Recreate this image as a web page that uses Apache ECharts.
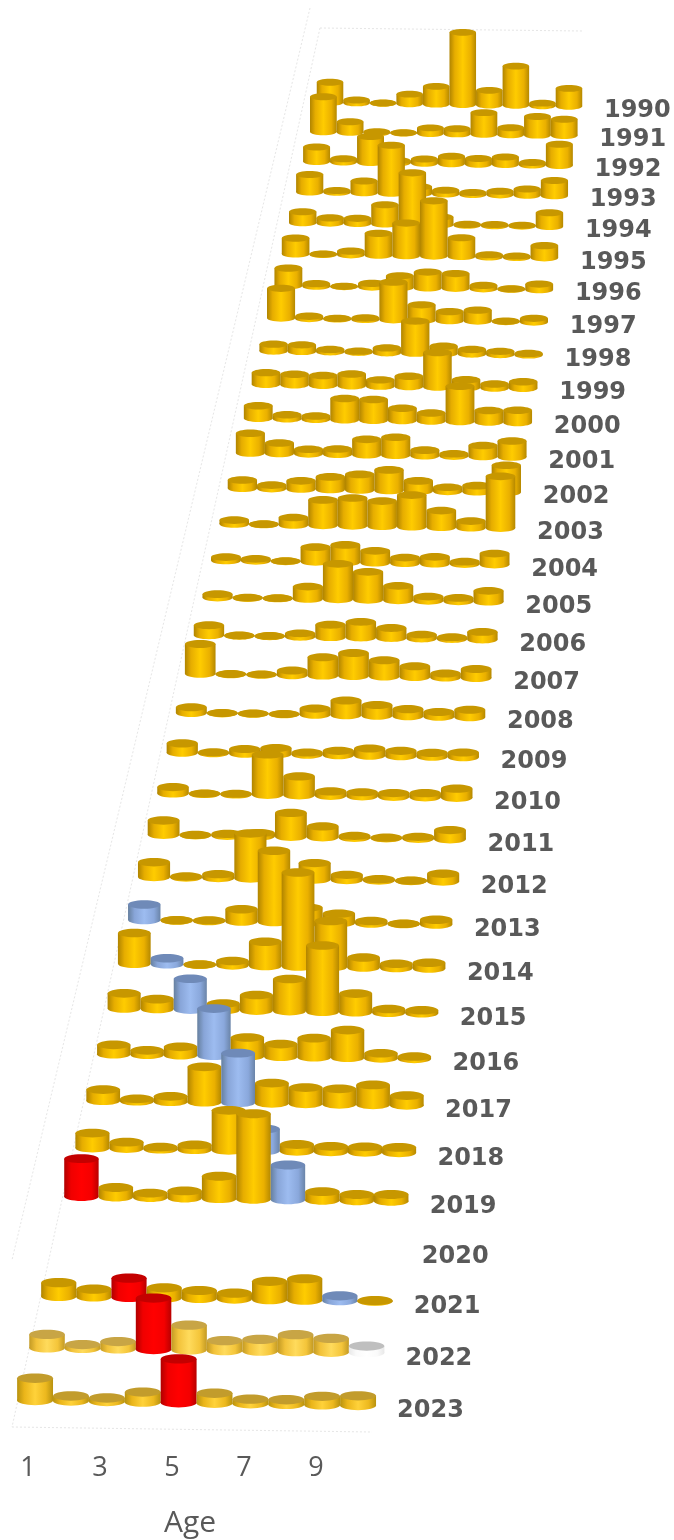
<!DOCTYPE html>
<html>
<head>
<meta charset="utf-8">
<title>Age by year</title>
<style>
    html,body{margin:0;padding:0;background:#fff;}
    #chart{width:674px;height:1540px;filter:blur(0.6px);}
</style>
<script src="https://cdn.jsdelivr.net/npm/echarts@6/dist/echarts.min.js"></script>
</head>
<body>
<div id="chart"></div>
<script>
    var ages = [1,2,3,4,5,6,7,8,9,10];
    var years = [1990,1991,1992,1993,1994,1995,1996,1997,1998,1999,2000,2001,2002,2003,2004,2005,2006,2007,2008,2009,2010,2011,2012,2013,2014,2015,2016,2017,2018,2019,2020,2021,2022,2023];
    // one row per year, age 1..10
    var rows = [
        [7.6,1.1,0.1,3.6,6.7,27.2,5.5,14.8,1.0,6.7],
        [13.1,3.9,0.3,0.1,2.1,1.9,8.1,2.6,7.0,6.1],
        [5.4,1.2,9.6,0.8,1.6,2.8,2.1,2.8,0.9,7.8],
        [6.4,0.7,4.3,17.6,2.5,1.4,0.7,1.3,2.3,5.6],
        [4.0,1.9,1.9,7.0,18.8,2.8,0.3,0.4,0.3,5.0],
        [5.7,0.1,1.3,7.9,11.8,20.0,6.8,0.8,0.5,4.4],
        [6.3,0.9,0.1,1.3,4.2,5.7,5.3,1.2,0.1,2.0],
        [10.6,0.8,0.2,0.5,13.4,5.5,3.2,3.9,0.1,1.3],
        [2.4,2.3,0.8,0.4,1.7,11.3,2.6,1.6,1.1,0.5],
        [4.1,3.7,3.4,4.1,2.2,3.6,12.1,2.7,1.4,2.3],
        [4.4,1.4,1.1,7.4,7.2,4.3,2.8,12.2,4.0,4.2],
        [6.8,3.6,1.6,1.8,5.3,6.2,1.9,0.8,3.8,5.5],
        [2.8,1.2,2.8,4.3,5.3,7.0,3.4,1.4,2.1,9.2],
        [1.3,0.1,2.5,8.6,9.4,8.5,10.7,5.6,2.2,17.5],
        [1.1,0.7,0.1,4.9,5.8,4.0,1.9,2.3,0.8,3.7],
        [1.1,0.1,0.1,4.1,11.8,9.3,4.8,1.4,1.1,3.6],
        [3.3,0.1,0.1,1.1,4.1,5.2,3.3,1.3,0.6,2.5],
        [9.7,0.1,0.1,1.5,6.0,7.5,5.3,3.5,1.3,2.9],
        [1.8,0.1,0.1,0.1,2.0,4.8,3.5,2.3,1.5,2.4],
        [3.0,0.3,1.5,2.0,0.7,1.4,2.3,1.7,1.2,1.5],
        [2.0,0.1,0.2,12.8,6.0,1.4,1.3,1.2,1.3,2.9],
        [4.5,0.1,0.6,1.0,7.5,3.4,0.6,0.2,0.6,2.9],
        [4.6,0.3,1.2,14.0,1.5,5.1,1.6,0.4,0.1,2.4],
        [4.8,0.1,0.2,3.8,22.0,4.6,2.9,0.8,0.1,1.5],
        [9.4,1.9,0.1,1.3,7.4,28.7,14.0,3.0,1.3,1.7],
        [4.6,3.0,9.3,2.0,4.7,9.7,20.0,5.6,1.1,0.9],
        [2.8,1.3,2.5,14.1,5.6,3.8,5.7,8.3,1.5,0.7],
        [3.3,0.7,1.6,10.5,14.7,6.0,4.8,4.6,5.9,2.9],
        [4.4,1.9,0.6,1.4,11.7,6.4,2.0,1.6,1.6,1.6],
        [11.0,2.8,1.3,2.1,6.5,24.8,10.1,2.5,1.8,2.0],
        [null,null,null,null,null,null,null,null,null,null],
        [3.9,2.2,5.5,2.9,2.3,1.7,5.2,6.1,1.4,0.2],
        [3.8,1.1,2.1,14.5,7.0,2.8,3.3,4.8,3.9,1.9],
        [6.2,1.4,1.0,2.8,12.2,2.8,1.3,1.3,2.4,2.7]
    ];
    // cohorts that are picked out in the chart (birth year = year - age)
    var redCohort = 2018;
    var blueCohort = 2012;
    var paleYear = 2022;
    var softYear = 2023;

    var gridLeft = 28, gridTop = 108, gridW = 324, gridH = 1300;

    // perspective of the 3D floor, fitted on the picture
    function project(px, py){
        var u = (px - gridLeft) / gridW;
        var t = (py - gridTop) / gridH * (years.length - 1);
        var s = 26.55 * 126.8 / (126.8 - t);
        var y = -3587 + 468500 / (126.8 - t);
        var x = 35 + (1408 - y) * 0.2269 + 9 * s * u;
        return {x: x, y: y + (u - 0.5) * 9 * s * 0.0155, s: s};
    }

    function shade(edgeL, midL, mid, midR, edgeR){
        return new echarts.graphic.LinearGradient(0,0,1,0,[
            {offset:0,color:edgeL},{offset:0.2,color:midL},{offset:0.5,color:mid},{offset:0.8,color:midR},{offset:1,color:edgeR}
        ]);
    }
    var looks = {
        gold: {side: shade('#b08400','#e6ad00','#ffcc00','#eab000','#b58800'), top:'#c79700'},
        pale: {side: shade('#c39a24','#f2c23a','#ffdb5c','#f4c53a','#c39a24'), top:'#c8a545'},
        soft: {side: shade('#b8920f','#eab51a','#ffd23a','#ecb81e','#b8920f'), top:'#c29c2c'},
        red: {side: shade('#b00000','#f00000','#ff0000','#f40000','#b80000'), top:'#c40000'},
        blue: {side: shade('#66809f','#88a5d8','#9dbcf0','#8aa8dc','#6a84a8'), top:'#6f8ab8'},
        white: {side: shade('#e8e8e8','#fafafa','#ffffff','#fafafa','#e8e8e8'), top:'#bfbfbf'}
    };

    function lookOf(ageIdx, yearIdx){
        var year = years[yearIdx], age = ages[ageIdx];
        if(year - age === redCohort) return looks.red;
        if(year - age === blueCohort) return year === paleYear ? looks.white : looks.blue;
        if(year === paleYear) return looks.pale;
        return year === softYear ? looks.soft : looks.gold;
    }

    function renderBar(params, api){
        var ageIdx = api.value(0), yearIdx = api.value(1), v = api.value(2);
        var c = api.coord([ageIdx, yearIdx]);
        var p = project(c[0], c[1]);
        var w = p.s * 1.0, ry = w * 0.13;
        var baseY = p.y - ry;
        var h = v / 10 * p.s;
        var look = lookOf(ageIdx, yearIdx);
        return {
            type: 'group',
            children: [
                {type:'ellipse', shape:{cx:p.x, cy:baseY, rx:w/2, ry:ry}, style:{fill:look.side}},
                {type:'rect', shape:{x:p.x - w/2, y:baseY - h, width:w, height:h}, style:{fill:look.side}},
                {type:'ellipse', shape:{cx:p.x, cy:baseY - h, rx:w/2, ry:ry}, style:{fill:look.top}}
            ]
        };
    }

    function renderYear(params, api){
        var c = api.coord([api.value(0), api.value(1)]);
        var p = project(c[0], c[1]);
        return {
            type: 'text',
            x: p.x + 35 + api.value(1) * 0.12,
            y: p.y + 1,
            style: {
                text: String(years[api.value(1)]),
                fill: '#595959',
                font: 'bold 24px "DejaVu Sans"',
                align: 'left',
                verticalAlign: 'middle'
            }
        };
    }

    var barData = [];
    rows.forEach(function(row, y){
        row.forEach(function(v, a){
            if(v !== null) barData.push([a, y, v]);
        });
    });

    var floorLine = {stroke:'#e6e6e6', lineWidth:1, lineDash:[2,2]};
    function wallLine(x1,y1,x2,y2){
        return {type:'line', silent:true, shape:{x1:x1,y1:y1,x2:x2,y2:y2}, style:floorLine};
    }

    var chart = echarts.init(document.getElementById('chart'), null, {renderer:'canvas'});
    chart.setOption({
        animation: false,
        backgroundColor: '#fff',
        graphic: [
            wallLine(310,8,12,1260),
            wallLine(320,28,12,1427),
            wallLine(320,28,583,31),
            wallLine(12,1427,372,1432)
        ],
        grid: {left: gridLeft, top: gridTop, width: gridW, height: gridH, outerBoundsMode: 'none'},
        xAxis: {
            type: 'category',
            data: ages,
            boundaryGap: false,
            axisLine: {show:false},
            axisTick: {show:false},
            axisLabel: {interval:1, margin:47, color:'#595959', fontFamily:'Open Sans', fontSize:27},
            name: 'Age',
            nameLocation: 'middle',
            nameGap: 100,
            nameTextStyle: {color:'#595959', fontFamily:'Open Sans', fontSize:30}
        },
        yAxis: {
            type: 'category',
            data: years,
            inverse: true,
            boundaryGap: false,
            show: false
        },
        series: [
            {
                type: 'custom',
                name: 'bars',
                renderItem: renderBar,
                encode: {x:0, y:1},
                data: barData,
                silent: true,
                z: 2
            },
            {
                type: 'custom',
                name: 'years',
                renderItem: renderYear,
                encode: {x:0, y:1},
                data: years.map(function(y, i){ return [ages.length - 1, i]; }),
                silent: true,
                z: 3
            }
        ]
    });
</script>
</body>
</html>
